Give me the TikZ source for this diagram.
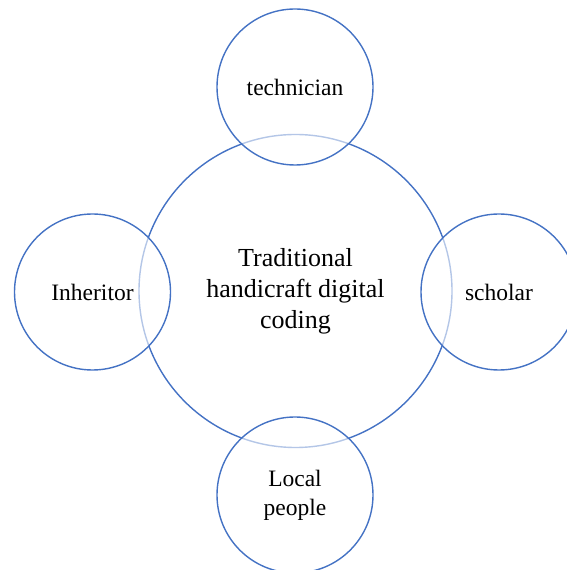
\documentclass[tikz,border=0pt]{standalone}
\usepackage{fontspec}
\setmainfont{Liberation Serif}
\usetikzlibrary{positioning}
\definecolor{ringblue}{HTML}{4472C4}

\begin{document}
\begin{tikzpicture}[x=1pt,y=1pt,
    ring/.style={circle,draw=ringblue,line width=1.4pt,inner sep=0pt,align=center,
      font=\fontsize{23.5}{29}\selectfont},
    bigring/.style={ring,minimum size=313pt,font=\fontsize{26}{31}\selectfont},
    smallring/.style={ring,minimum size=156pt,fill=white,fill opacity=0.6,text opacity=1}]
    \useasboundingbox (0,0) rectangle (567,570);
    %Center
    \node[bigring] (coding) at (295.5,279) {Traditional\\handicraft digital\\coding};
    %Roles
    \node[smallring] (technician) at (295,483) {technician};
    \node[smallring] (inheritor) at (92.5,278) {Inheritor};
    \node[smallring] (scholar) at (499,278) {scholar};
    \node[smallring] (local) at (295,75) {Local\\people};
\end{tikzpicture}
\end{document}
